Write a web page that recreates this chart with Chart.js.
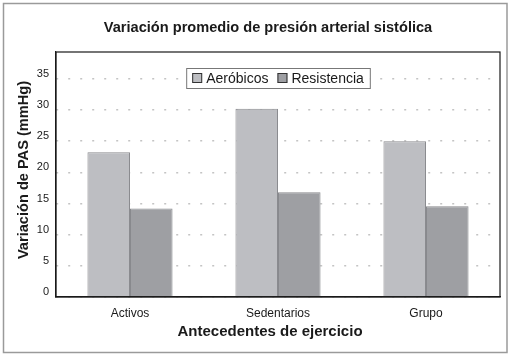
<!DOCTYPE html>
<html>
<head>
<meta charset="utf-8">
<script src="https://cdn.jsdelivr.net/npm/chart.js@4/dist/chart.umd.min.js"></script>
<style>
    html, body { margin: 0; padding: 0; background: #fff; }
    #wrap { width: 512px; height: 358px; position: relative; }
</style>
</head>
<body>
<div id="wrap"><canvas id="chart"></canvas></div>
<script>
// Chart data
const categories = ['Activos', 'Sedentarios', 'Grupo'];
const aerobicos = [23.2, 30.2, 25.0];
const resistencia = [14.2, 16.8, 14.55];
const yTicks = [0, 5, 10, 15, 20, 25, 30, 35];

const chartTitle = 'Variación promedio de presión arterial sistólica';
const yTitle = 'Variación de PAS (mmHg)';
const xTitle = 'Antecedentes de ejercicio';

const FONT = '"Liberation Sans", Arial, sans-serif';

// Draws frame, titles, plot box and the floating legend
const decorations = {
    id: 'decorations',
    beforeDraw(chart) {
        const ctx = chart.ctx;
        ctx.save();
        ctx.fillStyle = '#fff';
        ctx.fillRect(0, 0, chart.width, chart.height);
        ctx.restore();
    },
    afterDraw(chart) {
        const ctx = chart.ctx;
        const area = chart.chartArea;
        ctx.save();

        // outer frame
        ctx.strokeStyle = '#9a9a9a';
        ctx.lineWidth = 1.5;
        ctx.strokeRect(3.5, 3.5, 503.5, 349);

        // plot box
        ctx.strokeStyle = '#1a1a1a';
        ctx.lineWidth = 1.2;
        ctx.strokeRect(area.left, area.top, area.right - area.left, area.bottom - area.top);

        // titles
        ctx.fillStyle = '#1a1a1a';
        ctx.textAlign = 'center';
        ctx.textBaseline = 'middle';
        ctx.font = 'bold 14.6px ' + FONT;
        ctx.fillText(chartTitle, 268, 28);
        ctx.font = 'bold 15px ' + FONT;
        ctx.fillText(xTitle, (area.left + area.right) / 2 - 8, 332);

        ctx.font = 'bold 14.6px ' + FONT;
        ctx.save();
        ctx.translate(24, 170);
        ctx.rotate(-Math.PI / 2);
        ctx.fillText(yTitle, 0, 0);
        ctx.restore();

        // legend
        const ds = chart.data.datasets;
        ctx.font = '14px ' + FONT;
        const box = 10, gap = 4, itemGap = 9, pad = 6;
        const widths = ds.map(d => box + gap + ctx.measureText(d.label).width);
        const total = widths.reduce((a, b) => a + b, 0) + itemGap * (ds.length - 1) + pad * 2;
        const lx = (area.left + area.right) / 2 - total / 2;
        const ly = 68, lh = 20;
        ctx.fillStyle = '#fff';
        ctx.fillRect(lx, ly, total, lh);
        ctx.strokeStyle = '#777';
        ctx.lineWidth = 1;
        ctx.strokeRect(lx + 0.5, ly + 0.5, total, lh);
        let x = lx + pad;
        ds.forEach((d, i) => {
            ctx.fillStyle = d.backgroundColor;
            ctx.fillRect(x, ly + lh / 2 - box / 2, box, box);
            ctx.strokeStyle = '#333';
            ctx.strokeRect(x + 0.5, ly + lh / 2 - box / 2 + 0.5, box - 1, box - 1);
            ctx.fillStyle = '#1a1a1a';
            ctx.textAlign = 'left';
            ctx.fillText(d.label, x + box + gap, ly + lh / 2 + 1);
            x += widths[i] + itemGap;
        });
        ctx.restore();
    }
};

new Chart(document.getElementById('chart'), {
    type: 'bar',
    data: {
        labels: categories,
        datasets: [
            {
                label: 'Aeróbicos',
                data: aerobicos,
                backgroundColor: '#bdbec2',
                borderColor: '#8a8b8f',
                borderWidth: 1
            },
            {
                label: 'Resistencia',
                data: resistencia,
                backgroundColor: '#9e9fa3',
                borderColor: '#88898d',
                borderWidth: 1
            }
        ]
    },
    options: {
        responsive: true,
        maintainAspectRatio: false,
        animation: false,
        devicePixelRatio: 1,
        layout: {
            padding: { top: 52, right: 12, left: 0, bottom: 0 }
        },
        plugins: {
            legend: { display: false },
            title: { display: false },
            tooltip: { enabled: false }
        },
        datasets: {
            bar: { barPercentage: 1, categoryPercentage: 0.575 }
        },
        scales: {
            x: {
                grid: { display: false, drawTicks: false },
                border: { display: true, color: '#1a1a1a', width: 1.2 },
                ticks: {
                    color: '#1a1a1a',
                    font: { family: FONT, size: 12 },
                    padding: 9,
                    maxRotation: 0
                },
                afterFit(scale) { scale.height = 61; }
            },
            y: {
                min: 0,
                max: 39.3,
                afterBuildTicks(scale) {
                    scale.ticks = yTicks.map(v => ({ value: v }));
                },
                grid: {
                    color: '#c4c4c4',
                    lineWidth: 1.5,
                    drawTicks: false
                },
                border: { display: true, color: '#1a1a1a', width: 1.2, dash: [2, 10] },
                ticks: {
                    color: '#1a1a1a',
                    font: { family: FONT, size: 11 },
                    padding: 7,
                    labelOffset: -5
                },
                afterFit(scale) { scale.width = 56; }
            }
        }
    },
    plugins: [decorations]
});
</script>
</body>
</html>
